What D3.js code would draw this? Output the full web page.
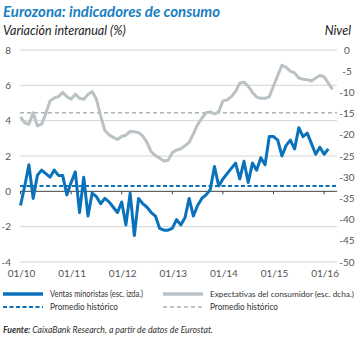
<!DOCTYPE html>
<html><head><meta charset="utf-8">
<script src="https://cdn.jsdelivr.net/npm/d3@7"></script>
<style>
body{margin:0;background:#fff;}
svg{display:block;font-family:Lato,"Open Sans",sans-serif;}
</style></head><body>
<svg id="chart" width="361" height="338"></svg>
<script>
// Monthly data Jan 2010 onwards
const startYear = 2010;
const retailSales = [ // % yoy, left axis
 -0.8,0.3,1.5,-0.4,0.9,1.2,1.0,0.8,1.2,0.9,0.9,-0.2,
 0.5,1.1,-1.2,0.8,-1.4,-0.1,-0.3,-0.7,-0.4,-0.6,-0.9,-1.2,
 -0.6,-1.9,-0.1,-2.5,-0.4,-0.7,-0.9,-1.2,-1.4,-2.1,-2.2,-2.2,
 -2.1,-1.6,-1.9,-1.5,-0.4,-1.4,-0.8,-0.4,-0.2,0.1,1.4,0.3,
 0.7,1.0,1.3,1.6,0.7,1.7,0.5,1.6,1.2,1.9,1.5,3.1,
 3.1,2.9,2.0,2.6,2.9,2.4,3.6,3.1,3.3,2.7,2.1,2.5,
 2.1,2.4];
const consumerConf = [ // level, right axis
 -15.8,-17.2,-17.5,-14.8,-17.9,-17.5,-15.0,-12.0,-11.3,-11.0,-10.0,-11.0,
 -11.6,-10.4,-11.4,-11.6,-10.5,-9.8,-11.6,-15.5,-19.0,-20.0,-20.6,-21.1,
 -20.4,-20.1,-19.2,-19.3,-19.5,-20.3,-21.8,-24.0,-24.9,-25.5,-26.2,-26.0,
 -24.2,-23.6,-23.3,-22.6,-21.8,-19.8,-17.6,-16.1,-14.8,-14.6,-15.1,-14.6,
 -12.0,-11.8,-11.0,-9.8,-7.8,-7.6,-8.5,-10.0,-11.1,-11.4,-11.4,-11.0,
 -8.5,-6.0,-3.6,-4.1,-5.0,-5.4,-6.6,-6.9,-7.0,-7.3,-6.6,-6.0,
 -6.3,-7.8,-9.3];
const retailAvg = 0.3;
const confAvg = -14.8;
const leftTicks = [8,6,4,2,0,-2,-4];
const rightTicks = [0,-5,-10,-15,-20,-25,-30,-35,-40,-45,-50];
const xTickLabels = ["01/10","01/11","01/12","01/13","01/14","01/15","01/16"];

const svg = d3.select("#chart");
const blue = "#0a72ba", gray = "#bac2c6", txt = "#333";
const x0 = 20, x1 = 337;
const x = d3.scaleLinear().domain([0, 75.2]).range([20.5, 337.6]);
const yL = d3.scaleLinear().domain([-4, 8]).range([262, 50]);
const yR = d3.scaleLinear().domain([-50, 0]).range([262, 50]);

// title
svg.append("text").attr("x",3).attr("y",17).attr("fill","#1a7fc3")
  .attr("font-size",15).attr("font-weight","bold").attr("font-style","italic")
  .text("Eurozona: indicadores de consumo");
svg.append("text").attr("x",3).attr("y",35).attr("fill","#222")
  .attr("font-size",12.5).attr("font-style","italic").text("Variación interanual (%)");
svg.append("text").attr("x",351).attr("y",35).attr("fill","#222").attr("text-anchor","end")
  .attr("font-size",12.5).attr("font-style","italic").text("Nivel");

// grid
svg.append("g").selectAll("line").data(leftTicks.filter(d=>d!==0)).join("line")
  .attr("x1",x0).attr("x2",x1).attr("y1",d=>yL(d)).attr("y2",d=>yL(d))
  .attr("stroke","#d4d4d4").attr("stroke-width",1);
// left labels
svg.append("g").selectAll("text").data(leftTicks).join("text")
  .attr("x",11).attr("y",d=>yL(d)+3.5).attr("text-anchor","end")
  .attr("font-size",10).attr("fill","#555").text(d=>d);
// right labels
svg.append("g").selectAll("text").data(rightTicks).join("text")
  .attr("x",347).attr("y",d=>yR(d)+3.5).attr("text-anchor","middle")
  .attr("font-size",10).attr("fill","#555").text(d=>d);

// averages
svg.append("line").attr("x1",x0).attr("x2",x1).attr("y1",yR(confAvg)).attr("y2",yR(confAvg))
  .attr("stroke","#aab3b8").attr("stroke-width",1.5).attr("stroke-dasharray","4,3");
svg.append("line").attr("x1",x0).attr("x2",x1).attr("y1",yL(retailAvg)).attr("y2",yL(retailAvg))
  .attr("stroke",blue).attr("stroke-width",2).attr("stroke-dasharray","4,2.5");

// zero axis
svg.append("line").attr("x1",x0).attr("x2",x1).attr("y1",yL(0)).attr("y2",yL(0))
  .attr("stroke","#444").attr("stroke-width",1);
svg.append("g").selectAll("line").data(xTickLabels).join("line")
  .attr("x1",(d,i)=>x(i*12)).attr("x2",(d,i)=>x(i*12))
  .attr("y1",yL(0)).attr("y2",yL(0)+3).attr("stroke","#444");
svg.append("g").selectAll("text").data(xTickLabels).join("text")
  .attr("x",(d,i)=>x(i*12)+1).attr("y",277).attr("text-anchor","middle")
  .attr("font-size",10).attr("fill","#555").text(d=>d);

// lines
const lineL = d3.line().x((d,i)=>x(i)).y(d=>yL(d));
const lineR = d3.line().x((d,i)=>x(i)).y(d=>yR(d));
svg.append("path").datum(consumerConf).attr("d",lineR).attr("fill","none")
  .attr("stroke",gray).attr("stroke-width",3).attr("stroke-linejoin","round");
svg.append("path").datum(retailSales).attr("d",lineL).attr("fill","none")
  .attr("stroke",blue).attr("stroke-width",3).attr("stroke-linejoin","round");

// legend
const lg = svg.append("g").attr("fill",txt);
const legendItems = [
  {x:3, y:294, color:blue, w:3.5, dash:null, label:"Ventas minoristas (esc. izda.)", tl:93, fs:9},
  {x:163, y:294, color:gray, w:3.5, dash:null, label:"Expectativas del consumidor (esc. dcha.)", tl:144, fs:8},
  {x:3, y:307, color:blue, w:2, dash:"4,2.5", label:"Promedio histórico", tl:68, fs:9},
  {x:163, y:307, color:"#aab3b8", w:1.5, dash:"4,3", label:"Promedio histórico", tl:68, fs:9}
];
legendItems.forEach(it=>{
  lg.append("line").attr("x1",it.x).attr("x2",it.x+40).attr("y1",it.y).attr("y2",it.y)
    .attr("stroke",it.color).attr("stroke-width",it.w).attr("stroke-dasharray",it.dash);
  lg.append("text").attr("x",it.x+47).attr("y",it.y+3).attr("font-size",it.fs)
    .attr("textLength",it.tl).attr("lengthAdjust","spacingAndGlyphs").text(it.label);
});

// source
const src = svg.append("text").attr("x",3).attr("y",333).attr("font-size",9).attr("fill",txt)
  .attr("font-style","italic").attr("textLength",210).attr("lengthAdjust","spacingAndGlyphs");
src.append("tspan").attr("font-weight","bold").text("Fuente: ");
src.append("tspan").text("CaixaBank Research, a partir de datos de Eurostat.");
</script>
</body></html>
